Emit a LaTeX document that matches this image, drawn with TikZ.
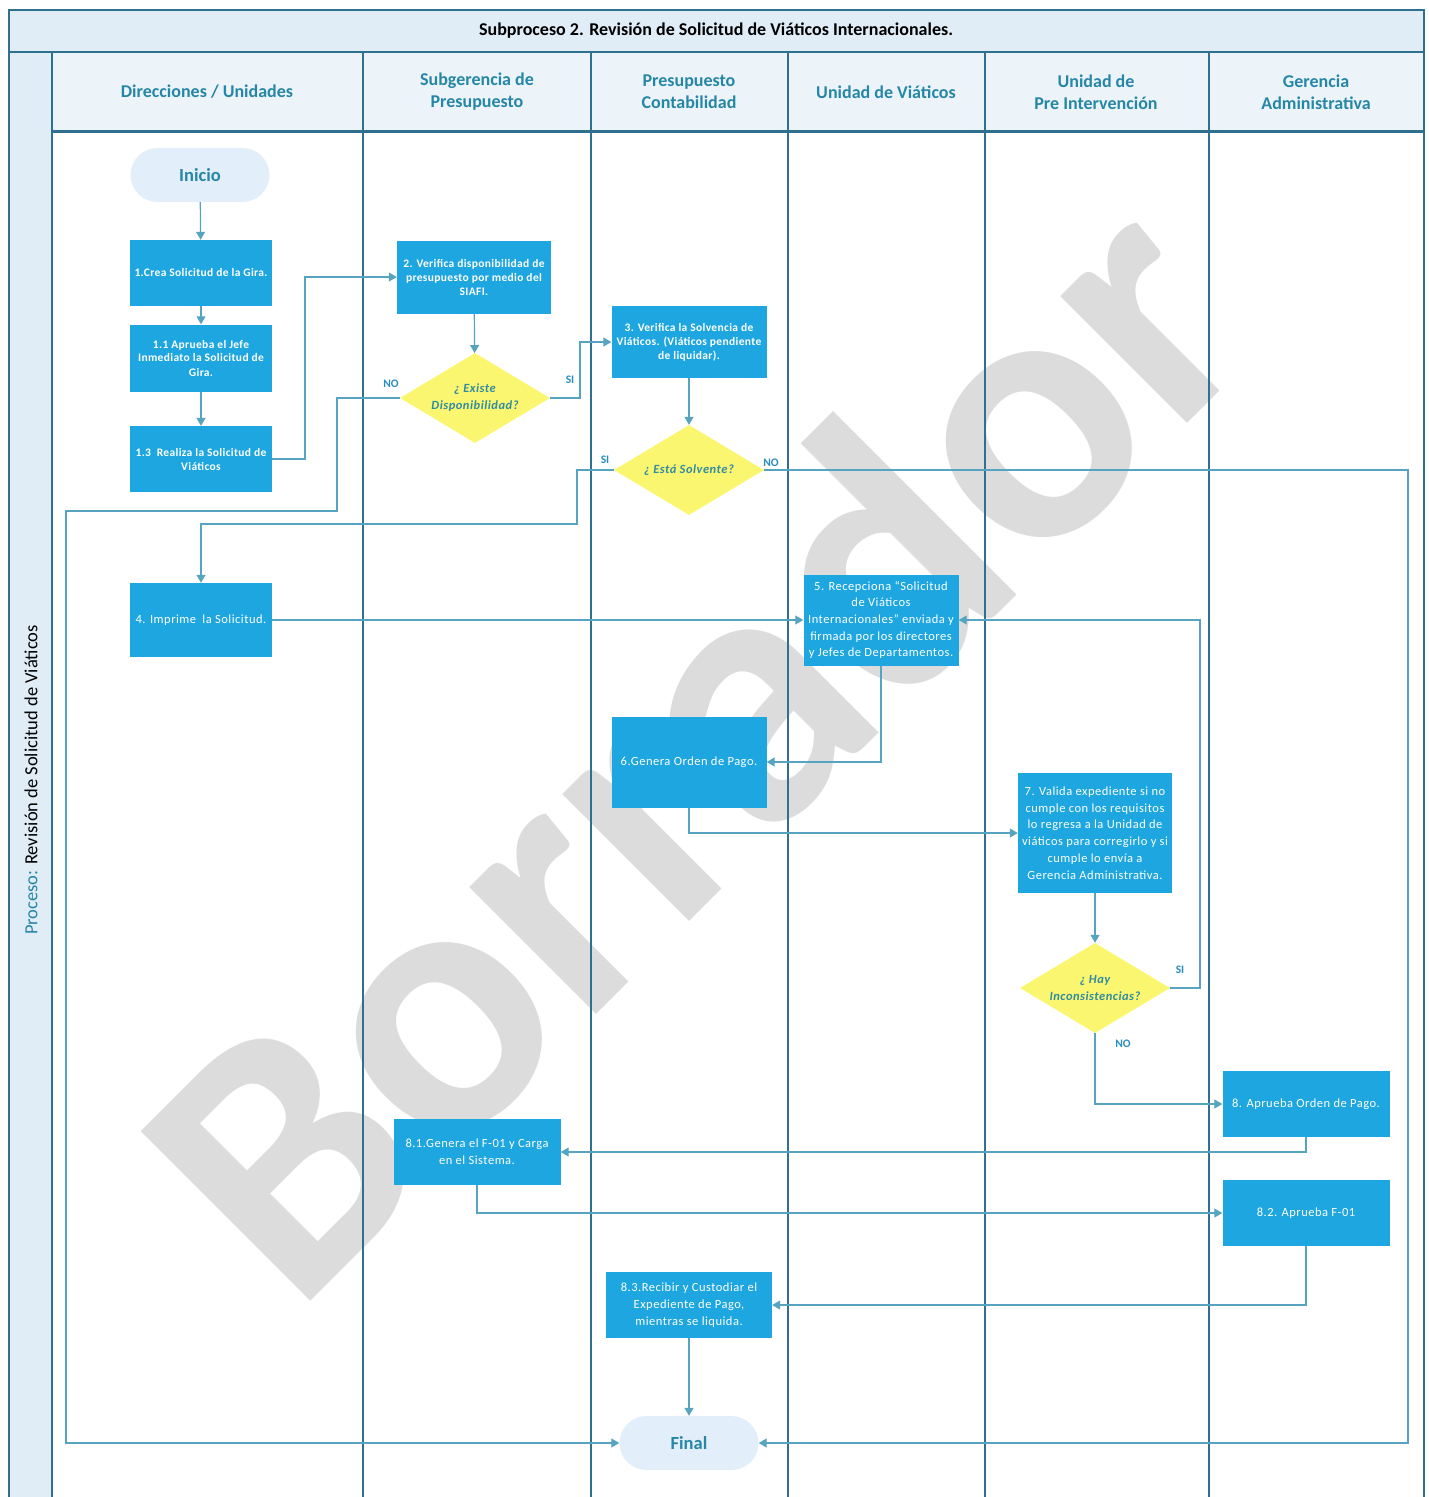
\documentclass[tikz,border=0pt]{standalone}
\usepackage{fontspec}
\setmainfont{Carlito}
\usetikzlibrary{shapes.geometric,arrows.meta,calc}

\definecolor{lanecol}{RGB}{47,112,143}
\definecolor{headfill}{RGB}{236,244,250}
\definecolor{titlefill}{RGB}{224,237,247}
\definecolor{headtext}{RGB}{38,134,166}
\definecolor{boxfill}{RGB}{29,166,224}
\definecolor{decfill}{RGB}{250,246,112}
\definecolor{dectext}{RGB}{50,140,160}
\definecolor{conncol}{RGB}{86,164,192}
\definecolor{termfill}{RGB}{226,239,250}
\definecolor{wmark}{RGB}{220,220,220}
\definecolor{lbl}{RGB}{40,140,190}

\tikzset{
  lane/.style={draw=lanecol, line width=1.6pt},
  proc/.style={rectangle, fill=boxfill, text=white, align=center, inner sep=1pt,
    font=\fontsize{12.5}{16.7}\selectfont\addfontfeatures{LetterSpace=4}},
  procb/.style={proc, font=\bfseries\fontsize{11.5}{14}\selectfont\addfontfeatures{LetterSpace=3}},
  term/.style={rectangle, rounded corners=27pt, fill=termfill, text=headtext,
    minimum width=139pt, minimum height=54pt, font=\bfseries\fontsize{18.5}{20}\selectfont},
  decision/.style={diamond, fill=decfill, text=dectext, align=center, inner sep=0pt,
    aspect=1.67, minimum width=150pt, minimum height=90pt,
    font=\bfseries\itshape\fontsize{12.5}{17}\selectfont\addfontfeatures{LetterSpace=4}},
  conn/.style={draw=conncol, line width=1.2pt, -{Triangle[width=9pt,length=8pt]}},
  answer/.style={text=lbl, font=\bfseries\fontsize{11.5}{12}\selectfont},
  header/.style={text=headtext, align=center, font=\bfseries\fontsize{18}{22}\selectfont}
}

\begin{document}
\begin{tikzpicture}[x=1pt,y=-1pt]
\useasboundingbox (0,0) rectangle (1429,1497);

% watermark behind everything
\node[rotate=45, text=wmark, font=\bfseries\fontsize{370}{370}\selectfont] (wm) at (690,740) {Borrador};

% title row, header cells and lane frame
\fill[titlefill] (9,10) rectangle (1424,52);
\fill[headfill] (52,52) rectangle (1424,130);
\fill[titlefill] (9,52) rectangle (52,1497);
\draw[lane] (9,10) rectangle (1424,52);
\draw[lane] (9,52) -- (9,1497);
\draw[lane] (1424,52) -- (1424,1497);
\foreach \x in {52,363,591,788,985,1209} \draw[lane] (\x,52) -- (\x,1497);
\draw[draw=lanecol, line width=3pt] (52,131) -- (1424,131);

\node[font=\bfseries\fontsize{18}{20}\selectfont] (title) at (716,31) {Subproceso 2. Revisión de Solicitud de Viáticos Internacionales.};

\node[header] (h1) at (207,92) {Direcciones / Unidades};
\node[header] (h2) at (477,92) {Subgerencia de\\Presupuesto};
\node[header] (h3) at (689,92) {Presupuesto\\Contabilidad};
\node[header] (h4) at (886,92) {Unidad de Viáticos};
\node[header] (h5) at (1096,92) {Unidad de\\Pre Intervención};
\node[header] (h6) at (1316,92) {Gerencia\\Administrativa};

\node[rotate=90, font=\fontsize{18.5}{20}\selectfont] (proc) at (31,780)
  {\textcolor{headtext}{Proceso:} Revisión de Solicitud de Viáticos};

% flow nodes
\node[term] (inicio) at (200,175) {Inicio};
\node[procb, minimum width=142pt, minimum height=66pt] (b1) at (201,273) {1.Crea Solicitud de la Gira.};
\node[procb, minimum width=142pt, minimum height=67pt] (b11) at (201,358) {1.1 Aprueba el Jefe\\Inmediato la Solicitud de\\Gira.};
\node[procb, minimum width=142pt, minimum height=66pt] (b13) at (201,459) {1.3\enspace Realiza la Solicitud de\\Viáticos};
\node[procb, minimum width=154pt, minimum height=73pt] (b2) at (474,277) {2. Verifica disponibilidad de\\presupuesto por medio del\\SIAFI.};
\node[decision] (d1) at (475,398) {¿ Existe\\Disponibilidad?};
\node[procb, minimum width=155pt, minimum height=72pt] (b3) at (689,342) {3. Verifica la Solvencia de\\Viáticos. (Viáticos pendiente\\de liquidar).};
\node[decision] (d2) at (689,470) {¿ Está Solvente?};
\node[proc, minimum width=142pt, minimum height=74pt] (b4) at (201,620) {4. Imprime\enspace la Solicitud.};
\node[proc, minimum width=155pt, minimum height=91pt] (b5) at (881,620) {5. Recepciona “Solicitud\\de Viáticos\\Internacionales” enviada y\\firmada por los directores\\y Jefes de Departamentos.};
\node[proc, minimum width=155pt, minimum height=91pt] (b6) at (689,762) {6.Genera Orden de Pago.};
\node[proc, minimum width=154pt, minimum height=120pt] (b7) at (1095,833) {7. Valida expediente si no\\cumple con los requisitos\\lo regresa a la Unidad de\\viáticos para corregirlo y si\\cumple lo envía a\\Gerencia Administrativa.};
\node[decision] (d3) at (1095,988) {¿ Hay\\Inconsistencias?};
\node[proc, minimum width=167pt, minimum height=66pt] (b8) at (1306,1104) {8. Aprueba Orden de Pago.};
\node[proc, minimum width=167pt, minimum height=66pt] (b81) at (477,1152) {8.1.Genera el F-01 y Carga\\en el Sistema.};
\node[proc, minimum width=167pt, minimum height=66pt] (b82) at (1306,1213) {8.2. Aprueba F-01};
\node[proc, minimum width=166pt, minimum height=66pt] (b83) at (689,1305) {8.3.Recibir y Custodiar el\\Expediente de Pago,\\mientras se liquida.};
\node[term] (final) at (689,1443) {Final};

% connectors
\draw[conn] (inicio) -- (b1);
\draw[conn] (b1) -- (b11);
\draw[conn] (b11) -- (b13);
\draw[conn] (b13.east) -- (305,459) |- (b2.west);
\draw[conn] (b2) -- (d1);
\draw[conn] (d1.west) -- (337,398) |- (66,511) |- (final.west);
\draw[conn] (d1.east) -- (580,398) |- (b3.west);
\draw[conn] (b3) -- (d2);
\draw[conn] (d2.west) -- (577,470) |- (201,524) -- (b4.north);
\draw[conn] (d2.east) -- (1408,470) |- (final.east);
\draw[conn] (b4.east) -- (b5.west);
\draw[conn] (b5.south) |- (b6.east);
\draw[conn] (b6.south) |- (b7.west);
\draw[conn] (b7) -- (d3);
\draw[conn] (d3.east) -- (1200,988) |- (b5.east);
\draw[conn] (d3.south) |- (b8.west);
\draw[conn] (b8.south) |- (b81.east);
\draw[conn] (b81.south) |- (b82.west);
\draw[conn] (b82.south) |- (b83.east);
\draw[conn] (b83) -- (final);

% answers on the decision branches
\node[answer] (l1) at (391,384) {NO};
\node[answer] (l2) at (570,380) {SI};
\node[answer] (l3) at (605,460) {SI};
\node[answer] (l4) at (771,463) {NO};
\node[answer] (l5) at (1180,970) {SI};
\node[answer] (l6) at (1123,1044) {NO};
\end{tikzpicture}
\end{document}
